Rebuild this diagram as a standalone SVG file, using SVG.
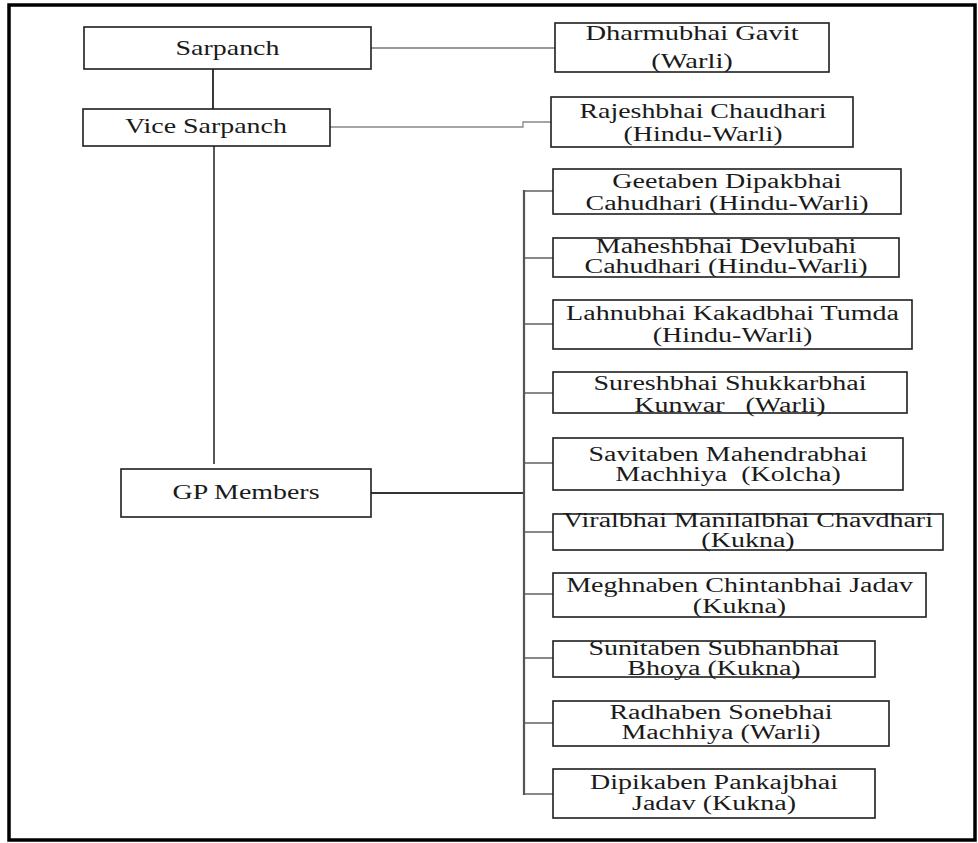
<svg xmlns="http://www.w3.org/2000/svg" width="978" height="843" viewBox="0 0 978 843">
<style>
.box{fill:#fff;stroke:#1e1e1e;stroke-width:1.6}
.t{font-family:"Liberation Serif","Times New Roman",serif;font-size:20px;fill:#1a1a1a;text-anchor:middle}
.big{font-size:21px}
.c{fill:none;stroke-linecap:butt}
</style>
<rect x="0" y="0" width="978" height="843" fill="#fff"/>
<rect x="9" y="5" width="966" height="835" fill="none" stroke="#000" stroke-width="3.5"/>
<g id="connectors" class="c">
<line x1="213" y1="69" x2="213" y2="109" stroke="#222" stroke-width="1.8"/>
<line x1="214" y1="146" x2="214" y2="464" stroke="#444" stroke-width="1.8"/>
<line x1="371" y1="48" x2="555" y2="48" stroke="#777" stroke-width="1.3"/>
<polyline points="330,127 523,127 523,122 551,122" stroke="#888" stroke-width="1.3"/>
<line x1="371" y1="493" x2="524" y2="493" stroke="#333" stroke-width="2"/>
<line x1="524" y1="190" x2="524" y2="795" stroke="#555" stroke-width="2.2"/>
<g stroke="#555" stroke-width="1.4">
<line x1="524" y1="191" x2="553" y2="191"/>
<line x1="524" y1="258" x2="553" y2="258"/>
<line x1="524" y1="324" x2="553" y2="324"/>
<line x1="524" y1="393" x2="553" y2="393"/>
<line x1="524" y1="463" x2="553" y2="463"/>
<line x1="524" y1="532" x2="553" y2="532"/>
<line x1="524" y1="594" x2="553" y2="594"/>
<line x1="524" y1="658" x2="553" y2="658"/>
<line x1="524" y1="723" x2="553" y2="723"/>
<line x1="524" y1="794" x2="553" y2="794"/>
</g>
</g>
<g id="sarpanch"><rect class="box" x="84" y="27" width="287" height="42"/><text class="t big" transform="translate(227.5 0) scale(1.33 1)" y="55">Sarpanch</text></g>
<g id="vice-sarpanch"><rect class="box" x="83" y="109" width="247" height="37"/><text class="t big" transform="translate(206 0) scale(1.33 1)" y="133">Vice Sarpanch</text></g>
<g id="gp-members"><rect class="box" x="121" y="469" width="250" height="48"/><text class="t big" transform="translate(246 0) scale(1.33 1)" y="499">GP Members</text></g>
<g id="dharmubhai"><rect class="box" x="555" y="23" width="274" height="49"/><text class="t big" transform="translate(692 0) scale(1.36 1)" y="40">Dharmubhai Gavit</text><text class="t big" transform="translate(692 0) scale(1.36 1)" y="68">(Warli)</text></g>
<g id="rajeshbhai"><rect class="box" x="551" y="97" width="302" height="50"/><text class="t big" transform="translate(703 0) scale(1.33 1)" y="118">Rajeshbhai Chaudhari</text><text class="t big" transform="translate(703 0) scale(1.33 1)" y="141">(Hindu-Warli)</text></g>
<g id="geetaben"><rect class="box" x="553" y="169" width="348" height="45"/><text class="t" transform="translate(727 0) scale(1.4 1)" y="188">Geetaben Dipakbhai</text><text class="t" transform="translate(727 0) scale(1.4 1)" y="210">Cahudhari (Hindu-Warli)</text></g>
<g id="maheshbhai"><rect class="box" x="553" y="238" width="346" height="39"/><text class="t" transform="translate(726 0) scale(1.4 1)" y="253">Maheshbhai Devlubahi</text><text class="t" transform="translate(726 0) scale(1.4 1)" y="273">Cahudhari (Hindu-Warli)</text></g>
<g id="lahnubhai"><rect class="box" x="553" y="300" width="359" height="49"/><text class="t" transform="translate(732.5 0) scale(1.4 1)" y="320">Lahnubhai Kakadbhai Tumda</text><text class="t" transform="translate(732.5 0) scale(1.4 1)" y="342">(Hindu-Warli)</text></g>
<g id="sureshbhai"><rect class="box" x="553" y="372" width="354" height="41"/><text class="t" transform="translate(730 0) scale(1.4 1)" y="390">Sureshbhai Shukkarbhai</text><text class="t" transform="translate(730 0) scale(1.4 1)" y="412" xml:space="preserve">Kunwar   (Warli)</text></g>
<g id="savitaben"><rect class="box" x="553" y="438" width="350" height="52"/><text class="t" transform="translate(728 0) scale(1.4 1)" y="461">Savitaben Mahendrabhai</text><text class="t" transform="translate(728 0) scale(1.4 1)" y="481" xml:space="preserve">Machhiya  (Kolcha)</text></g>
<g id="viralbhai"><rect class="box" x="553" y="514" width="390" height="36"/><text class="t" transform="translate(748 0) scale(1.4 1)" y="527">Viralbhai Manilalbhai Chavdhari</text><text class="t" transform="translate(748 0) scale(1.4 1)" y="547">(Kukna)</text></g>
<g id="meghnaben"><rect class="box" x="553" y="573" width="373" height="44"/><text class="t" transform="translate(739.5 0) scale(1.4 1)" y="592">Meghnaben Chintanbhai Jadav</text><text class="t" transform="translate(739.5 0) scale(1.4 1)" y="613">(Kukna)</text></g>
<g id="sunitaben"><rect class="box" x="553" y="641" width="322" height="36"/><text class="t" transform="translate(714 0) scale(1.4 1)" y="655">Sunitaben Subhanbhai</text><text class="t" transform="translate(714 0) scale(1.4 1)" y="675">Bhoya (Kukna)</text></g>
<g id="radhaben"><rect class="box" x="553" y="701" width="336" height="45"/><text class="t" transform="translate(721 0) scale(1.4 1)" y="719">Radhaben Sonebhai</text><text class="t" transform="translate(721 0) scale(1.4 1)" y="739">Machhiya (Warli)</text></g>
<g id="dipikaben"><rect class="box" x="553" y="769" width="322" height="49"/><text class="t" transform="translate(714 0) scale(1.4 1)" y="789">Dipikaben Pankajbhai</text><text class="t" transform="translate(714 0) scale(1.4 1)" y="810">Jadav (Kukna)</text></g>
</svg>
